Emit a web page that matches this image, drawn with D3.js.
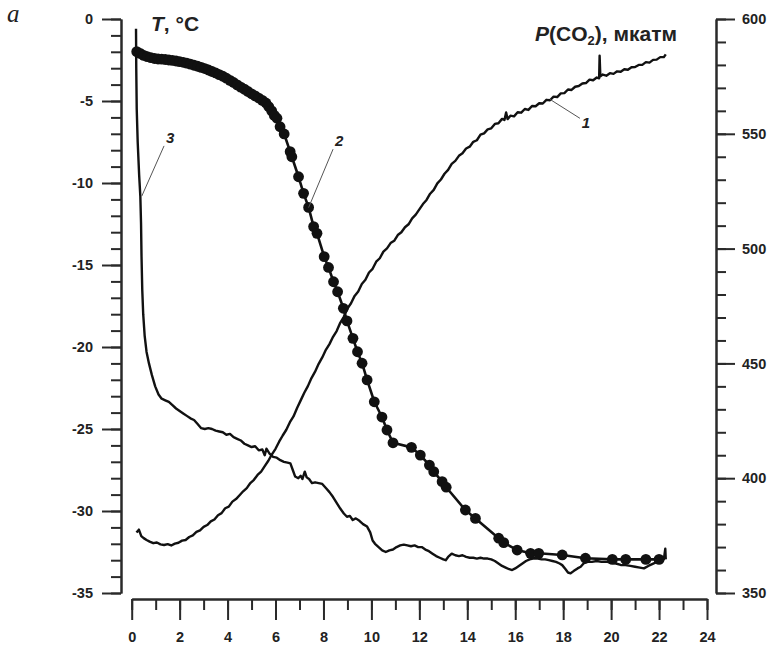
<!DOCTYPE html>
<html>
<head>
<meta charset="utf-8">
<script src="https://cdn.jsdelivr.net/npm/d3@7"></script>
<style>
  html, body { margin: 0; padding: 0; background: #fff; }
  svg { display: block; }
</style>
</head>
<body>
<svg id="chart" width="774" height="650"></svg>
<script>
// Time axis, hours
const hourTicks = [0, 2, 4, 6, 8, 10, 12, 14, 16, 18, 20, 22, 24];
const tempTicks = [0, -5, -10, -15, -20, -25, -30, -35];
const pco2Ticks = [350, 400, 450, 500, 550, 600];

// Curve 1: P(CO2), µatm vs. time (h)
const pco2Hours = [0.20,0.30,0.40,0.50,0.62,0.75,0.90,1.05,1.20,1.35,1.50,1.65,1.80,1.95,2.10,2.25,2.40,2.55,2.70,2.85,3.00,3.15,3.30,3.45,3.60,3.75,3.90,4.05,4.20,4.35,4.50,4.65,4.80,4.95,5.10,5.25,5.40,5.55,5.70,5.85,6.00,6.15,6.30,6.45,6.60,6.75,6.90,7.05,7.20,7.35,7.50,7.65,7.80,7.95,8.10,8.25,8.40,8.55,8.70,8.85,9.00,9.15,9.30,9.45,9.60,9.75,9.90,10.05,10.20,10.35,10.50,10.65,10.80,10.95,11.10,11.25,11.40,11.55,11.70,11.85,12.00,12.15,12.30,12.45,12.60,12.75,12.90,13.05,13.20,13.35,13.50,13.65,13.80,13.95,14.10,14.25,14.40,14.55,14.70,14.85,15.00,15.15,15.30,15.45,15.55,15.62,15.68,15.80,15.95,16.10,16.25,16.40,16.55,16.70,16.85,17.00,17.15,17.30,17.45,17.60,17.75,17.90,18.05,18.20,18.35,18.50,18.65,18.80,18.95,19.10,19.25,19.40,19.50,19.52,19.55,19.65,19.80,19.95,20.10,20.25,20.40,20.55,20.70,20.85,21.00,21.15,21.30,21.45,21.60,21.75,21.90,22.05,22.20,22.28];
const pco2Values = [376.3,377.6,374.8,373.9,373.1,372.4,371.7,372.0,371.2,370.9,371.3,370.7,371.5,371.9,372.8,373.1,374.4,375.1,376.6,377.3,378.8,379.6,381.2,382.0,383.9,384.8,386.9,387.6,389.8,390.9,392.6,394.3,395.7,397.9,399.3,401.4,402.9,405.3,407.6,410.4,412.8,415.9,418.6,421.1,424.4,426.9,430.6,433.9,437.2,440.1,443.6,446.4,449.8,452.6,455.9,458.4,461.6,464.1,467.7,470.3,473.9,476.2,479.4,481.3,484.6,486.4,489.6,491.2,494.3,495.8,498.7,500.1,502.4,503.4,505.9,507.1,509.3,510.6,513.2,514.8,517.1,519.4,521.2,523.9,525.6,528.4,530.1,532.6,534.3,536.9,538.2,540.4,541.5,543.6,544.4,546.5,547.2,549.6,550.2,551.9,552.4,554.3,554.6,556.5,556.0,559.3,556.4,557.9,557.6,559.4,559.2,560.8,560.4,562.1,562.0,563.3,563.2,564.8,564.6,566.2,566.0,567.6,567.7,569.3,569.1,570.5,570.8,571.9,572.1,573.6,573.3,574.5,574.2,584.0,575.0,575.8,575.3,576.4,576.1,577.2,577.0,578.1,577.9,579.0,579.1,580.0,580.0,581.2,581.0,582.2,582.3,583.4,583.4,584.6];

// Curve 2: temperature with markers, °C
const tempMarkHours = [0.21,0.35,0.50,0.65,0.80,0.95,1.10,1.25,1.40,1.55,1.70,1.85,2.00,2.15,2.30,2.45,2.60,2.75,2.90,3.05,3.20,3.35,3.50,3.65,3.80,3.95,4.10,4.25,4.40,4.55,4.70,4.85,5.00,5.15,5.30,5.45,5.60,5.72,5.84,5.95,6.06,6.19,6.36,6.61,6.68,6.96,7.17,7.38,7.59,7.73,8.03,8.21,8.42,8.59,8.83,8.98,9.23,9.42,9.61,9.82,10.12,10.44,10.65,10.90,11.67,12.04,12.42,12.60,12.95,13.12,13.92,14.34,15.31,15.52,16.08,16.64,16.98,17.96,18.93,20.05,20.61,21.45,22.00];
const tempMarkValues = [-1.99,-2.10,-2.22,-2.30,-2.36,-2.41,-2.44,-2.45,-2.47,-2.50,-2.52,-2.56,-2.60,-2.64,-2.69,-2.75,-2.82,-2.88,-2.95,-3.02,-3.11,-3.20,-3.29,-3.39,-3.49,-3.61,-3.74,-3.87,-4.02,-4.15,-4.28,-4.42,-4.56,-4.69,-4.82,-4.96,-5.12,-5.35,-5.60,-5.88,-6.05,-6.57,-7.01,-8.09,-8.40,-9.62,-10.63,-11.49,-12.66,-13.07,-14.49,-15.15,-16.02,-16.63,-17.64,-18.41,-19.47,-20.29,-20.99,-22.01,-23.34,-24.27,-25.06,-25.84,-26.12,-26.59,-27.20,-27.60,-28.21,-28.55,-29.94,-30.45,-31.66,-31.93,-32.38,-32.58,-32.58,-32.68,-32.88,-32.95,-32.95,-32.95,-32.95];

// Curve 3: temperature, °C
const temp3Hours = [0.18,0.19,0.21,0.25,0.31,0.36,0.39,0.41,0.44,0.48,0.54,0.62,0.72,0.84,0.98,1.12,1.25,1.40,1.55,1.70,1.85,2.00,2.15,2.30,2.45,2.60,2.75,2.90,3.05,3.20,3.35,3.50,3.65,3.80,3.95,4.10,4.25,4.40,4.55,4.70,4.85,5.00,5.15,5.30,5.45,5.55,5.62,5.75,5.90,6.05,6.20,6.35,6.50,6.62,6.72,6.82,6.95,7.05,7.12,7.22,7.30,7.40,7.52,7.65,7.80,7.95,8.10,8.25,8.40,8.55,8.70,8.85,8.98,9.10,9.22,9.35,9.50,9.65,9.82,9.95,10.05,10.15,10.30,10.45,10.60,10.75,10.90,11.05,11.20,11.35,11.50,11.65,11.80,11.95,12.10,12.25,12.40,12.55,12.70,12.85,13.00,13.10,13.20,13.35,13.50,13.65,13.80,13.95,14.10,14.25,14.40,14.55,14.70,14.85,15.00,15.15,15.30,15.45,15.60,15.75,15.87,16.00,16.15,16.30,16.45,16.60,16.78,16.95,17.10,17.25,17.40,17.55,17.70,17.85,17.96,18.10,18.20,18.31,18.45,18.60,18.73,18.85,19.00,19.20,19.40,19.60,19.84,20.00,20.20,20.40,20.60,20.80,21.00,21.20,21.37,21.55,21.78,22.00,22.20,22.26,22.28];
const temp3Values = [-0.6,-3.0,-5.5,-7.5,-9.5,-10.8,-12.5,-14.5,-16.5,-18.0,-19.3,-20.3,-21.0,-21.7,-22.4,-22.9,-23.15,-23.25,-23.35,-23.55,-23.75,-23.9,-24.05,-24.2,-24.35,-24.45,-24.7,-24.95,-25.0,-24.95,-25.0,-25.1,-25.15,-25.2,-25.35,-25.3,-25.5,-25.6,-25.7,-25.9,-26.0,-26.1,-26.05,-26.3,-26.25,-26.6,-26.2,-26.5,-26.7,-26.75,-26.9,-27.0,-27.05,-27.1,-27.5,-27.9,-28.0,-27.85,-28.05,-27.6,-27.95,-28.05,-28.3,-28.25,-28.3,-28.35,-28.6,-28.85,-29.15,-29.5,-29.85,-30.15,-30.35,-30.3,-30.55,-30.45,-30.6,-30.8,-30.95,-31.3,-31.8,-32.0,-32.2,-32.4,-32.5,-32.4,-32.35,-32.2,-32.1,-32.05,-32.1,-32.15,-32.1,-32.2,-32.2,-32.35,-32.45,-32.6,-32.75,-32.85,-32.95,-33.0,-32.8,-32.6,-32.7,-32.75,-32.7,-32.8,-32.85,-32.85,-32.9,-32.85,-32.9,-32.9,-32.95,-33.05,-33.2,-33.35,-33.45,-33.55,-33.6,-33.5,-33.35,-33.2,-33.05,-32.95,-32.88,-32.9,-32.95,-32.95,-33.0,-33.05,-33.1,-33.2,-33.3,-33.55,-33.75,-33.8,-33.65,-33.5,-33.4,-33.2,-33.09,-33.1,-33.05,-33.1,-33.1,-33.15,-33.2,-33.29,-33.3,-33.35,-33.4,-33.45,-33.5,-33.35,-33.19,-33.05,-32.95,-32.3,-32.95];

// Curve number callouts: label, anchor point on curve (h, value, axis) and label position (h, value)
const curveLabels = ["1", "2", "3"];
const calloutAt = [[17.45, 565.0, "p"], [7.38, -11.5, "t"], [0.42, -10.8, "t"]];
const calloutText = [[18.95, -6.3], [8.65, -7.45], [1.6, -7.25]];

const svg = d3.select("#chart");
svg.append("rect").attr("width", 774).attr("height", 650).attr("fill", "#fff");

const x = d3.scaleLinear().domain([0, 24]).range([131.7, 707]);
const yT = d3.scaleLinear().domain([-35, 0]).range([593, 19]);
const yP = d3.scaleLinear().domain([350, 600]).range([593, 19]);

const axisColor = "#2a2a2a";
const labelFont = "Liberation Sans, Arial, sans-serif";
function styleAxis(g) {
  g.attr("font-family", labelFont).attr("font-size", 14.5);
  g.selectAll("path.domain").attr("stroke", axisColor).attr("stroke-width", 2);
  g.selectAll(".tick line").attr("stroke", axisColor).attr("stroke-width", 2);
  g.selectAll(".tick text").attr("font-weight", "bold").attr("fill", "#222");
}
const plain = d => String(d);

// Left temperature axis
const leftX = 121;
svg.append("g").attr("transform", `translate(${leftX},0)`)
  .call(d3.axisLeft(yT).tickValues(d3.range(-35, 1, 1)).tickSize(10).tickSizeOuter(0).tickFormat(""))
  .call(styleAxis);
svg.append("g").attr("transform", `translate(${leftX},0)`)
  .call(d3.axisLeft(yT).tickValues(tempTicks).tickSize(19).tickSizeOuter(0).tickPadding(9).tickFormat(plain))
  .call(styleAxis);

// Right P(CO2) axis
const rightX = 716;
svg.append("g").attr("transform", `translate(${rightX},0)`)
  .call(d3.axisRight(yP).tickValues(d3.range(350, 601, 10)).tickSize(10).tickSizeOuter(0).tickFormat(""))
  .call(styleAxis);
svg.append("g").attr("transform", `translate(${rightX},0)`)
  .call(d3.axisRight(yP).tickValues(pco2Ticks).tickSize(19).tickSizeOuter(0).tickPadding(7).tickFormat(plain))
  .call(styleAxis);

// Bottom time axis
const bottomY = 599;
svg.append("g").attr("transform", `translate(0,${bottomY})`)
  .call(d3.axisBottom(x).tickValues(d3.range(0, 25, 1)).tickSize(11).tickSizeOuter(0).tickFormat(""))
  .call(styleAxis);
svg.append("g").attr("transform", `translate(0,${bottomY})`)
  .call(d3.axisBottom(x).tickValues(hourTicks).tickSize(21).tickSizeOuter(0).tickPadding(12).tickFormat(plain))
  .call(styleAxis);

const ink = "#111";
const line = d3.line().curve(d3.curveLinear);

// Curve 1
svg.append("path")
  .attr("d", line(pco2Hours.map((h, i) => [x(h), yP(pco2Values[i])])))
  .attr("fill", "none").attr("stroke", ink).attr("stroke-width", 2.4).attr("stroke-linejoin", "round");

// Curve 3
svg.append("path")
  .attr("d", line(temp3Hours.map((h, i) => [x(h), yT(temp3Values[i])])))
  .attr("fill", "none").attr("stroke", ink).attr("stroke-width", 2.4).attr("stroke-linejoin", "round");

// Curve 2 with markers
const pts2 = tempMarkHours.map((h, i) => [x(h), yT(tempMarkValues[i])]);
svg.append("path")
  .attr("d", line(pts2))
  .attr("fill", "none").attr("stroke", ink).attr("stroke-width", 2.6).attr("stroke-linejoin", "round");
svg.append("g").selectAll("circle").data(pts2).join("circle")
  .attr("cx", d => d[0]).attr("cy", d => d[1]).attr("r", 5.4).attr("fill", ink);

// Callouts
curveLabels.forEach((lab, i) => {
  const [ah, av, ax] = calloutAt[i];
  const [th, tv] = calloutText[i];
  const px = x(ah), py = ax === "p" ? yP(av) : yT(av);
  const tx = x(th), ty = yT(tv);
  svg.append("line")
    .attr("x1", px).attr("y1", py).attr("x2", tx + (px > tx ? 3 : -6)).attr("y2", ty + (py > ty ? 8 : -4))
    .attr("stroke", "#555").attr("stroke-width", 1);
  svg.append("text")
    .attr("x", tx).attr("y", ty).attr("dy", "0.35em").attr("text-anchor", "middle")
    .attr("font-family", labelFont).attr("font-weight", "bold")
    .attr("font-style", "italic").attr("font-size", 15).attr("fill", "#222")
    .text(lab);
});

// Axis titles
const tT = svg.append("text").attr("x", 151).attr("y", 31)
  .attr("font-family", labelFont).attr("font-weight", "bold").attr("font-size", 21).attr("fill", "#222");
tT.append("tspan").attr("font-style", "italic").text("T");
tT.append("tspan").text(", °C");

const tP = svg.append("text").attr("x", 535).attr("y", 41)
  .attr("font-family", labelFont).attr("font-weight", "bold").attr("font-size", 21).attr("fill", "#222");
tP.append("tspan").attr("font-style", "italic").text("P");
tP.append("tspan").text("(CO");
tP.append("tspan").attr("font-size", 13).attr("dy", 4).text("2");
tP.append("tspan").attr("dy", -4).text("), мкатм");

// Panel letter
svg.append("text").attr("x", 7).attr("y", 22)
  .attr("font-family", "Liberation Serif, Times New Roman, serif").attr("font-style", "italic")
  .attr("font-size", 25).attr("fill", "#222").text("a");
</script>
</body>
</html>
